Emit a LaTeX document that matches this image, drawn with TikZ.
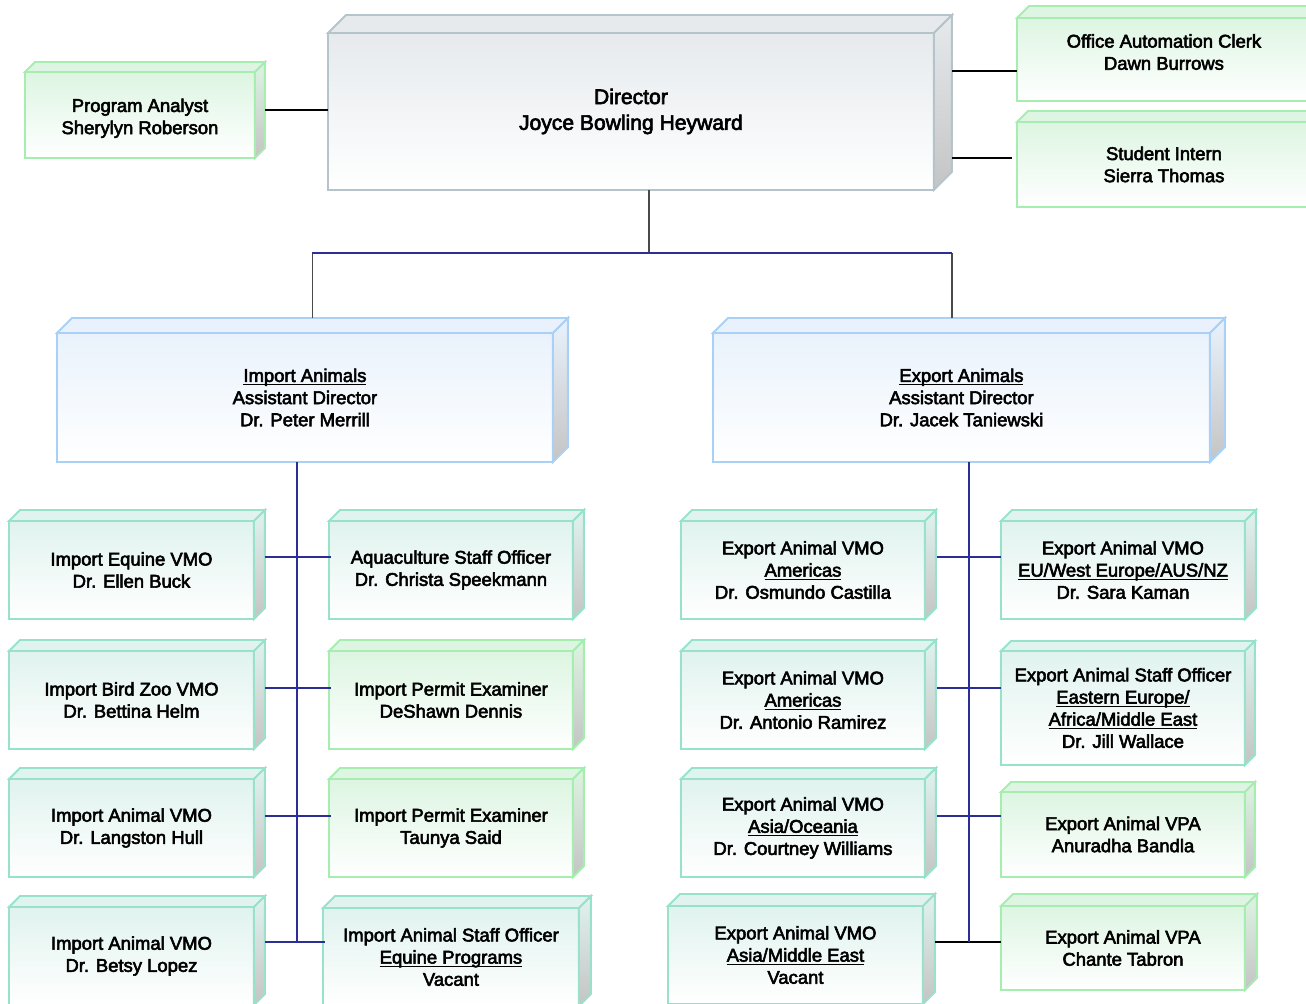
\documentclass[tikz,border=0pt]{standalone}
\usepackage{fontspec}
\setmainfont{Liberation Sans}[FakeBold=3]
\usetikzlibrary{positioning,calc}
\definecolor{dirL}{HTML}{B5C3CB}
\definecolor{dirF}{HTML}{E6EAED}
\definecolor{grnL}{HTML}{A6EDB0}
\definecolor{grnF}{HTML}{DDF5E2}
\definecolor{teaL}{HTML}{98E2CC}
\definecolor{teaF}{HTML}{E0F3EE}
\definecolor{bluL}{HTML}{A9D1F7}
\definecolor{bluF}{HTML}{E9F2FC}
\definecolor{sideG}{HTML}{C4C4C4}
\definecolor{navy}{HTML}{2B2E94}
\definecolor{dgray}{HTML}{4A4A4A}
\newcommand{\ul}[1]{\rlap{\underline{\smash{#1}}}\phantom{#1}}

\begin{document}
\begin{tikzpicture}[x=0.02cm,y=-0.02cm]
          \tikzstyle{box} = [rectangle, anchor=north west, inner sep=0pt, outer sep=0pt, line width=1.1pt, align=center, font=\fontsize{10.5}{12.6}\selectfont]
          \tikzstyle{dnode} = [box, draw=dirL, top color=dirF, bottom color=white, font=\fontsize{12}{14.7}\selectfont]
          \tikzstyle{gnode} = [box, draw=grnL, top color=grnF, bottom color=white]
          \tikzstyle{tnode} = [box, draw=teaL, top color=teaF, bottom color=white]
          \tikzstyle{bnode} = [box, draw=bluL, top color=bluF, bottom color=white]
          \tikzstyle{cell} = [minimum width=4.88cm, minimum height=1.96cm]
          \tikzstyle{blk} = [line width=1pt, black]
          \tikzstyle{nvy} = [line width=1pt, navy]
          \tikzstyle{gry} = [line width=1pt, dgray]
          \useasboundingbox (0,0) rectangle (1306,1004);

          \node[dnode, minimum width=12.12cm, minimum height=3.14cm] (dir) at (328,33) {Director\\Joyce Bowling Heyward};
          \node[gnode, minimum width=4.6cm, minimum height=1.72cm, text height=0.84cm] (pa) at (25,72) {Program Analyst\\Sherylyn Roberson};
          \node[gnode, minimum width=5.88cm, minimum height=1.66cm, text depth=0.3cm] (oac) at (1017,18) {Office Automation Clerk\\Dawn Burrows};
          \node[gnode, minimum width=5.88cm, minimum height=1.7cm] (si) at (1017,122) {Student Intern\\Sierra Thomas};

          \node[bnode, minimum width=9.92cm, minimum height=2.58cm] (ia) at (57,333) {\ul{Import Animals}\\Assistant Director\\Dr. Peter Merrill};
          \node[bnode, minimum width=9.94cm, minimum height=2.58cm] (ea) at (713,333) {\ul{Export Animals}\\Assistant Director\\Dr. Jacek Taniewski};

          \node[tnode, cell, minimum width=4.9cm] (ie1) at (9,521) {Import Equine VMO\\Dr. Ellen Buck};
          \node[tnode, cell, minimum width=4.9cm] (ie2) at (9,651) {Import Bird Zoo VMO\\Dr. Bettina Helm};
          \node[tnode, cell, minimum width=4.9cm] (ie3) at (9,779) {Import Animal VMO\\Dr. Langston Hull};
          \node[tnode, cell, minimum width=4.9cm] (ie4) at (9,907) {Import Animal VMO\\Dr. Betsy Lopez};

          \node[tnode, cell] (ir1) at (329,521) {Aquaculture Staff Officer\\Dr. Christa Speekmann};
          \node[gnode, cell] (ir2) at (329,651) {Import Permit Examiner\\DeShawn Dennis};
          \node[gnode, cell] (ir3) at (329,779) {Import Permit Examiner\\Taunya Said};
          \node[tnode, cell, minimum width=5.12cm] (ir4) at (323,908) {Import Animal Staff Officer\\\ul{Equine Programs}\\Vacant};

          \node[tnode, cell] (el1) at (681,521) {Export Animal VMO\\\ul{Americas}\\Dr. Osmundo Castilla};
          \node[tnode, cell] (el2) at (681,651) {Export Animal VMO\\\ul{Americas}\\Dr. Antonio Ramirez};
          \node[tnode, cell] (el3) at (681,779) {Export Animal VMO\\\ul{Asia/Oceania}\\Dr. Courtney Williams};
          \node[tnode, cell, minimum width=5.1cm] (el4) at (668,906) {Export Animal VMO\\\ul{Asia/Middle East}\\Vacant};

          \node[tnode, cell] (er1) at (1001,521) {Export Animal VMO\\\ul{EU/West Europe/AUS/NZ}\\Dr. Sara Kaman};
          \node[tnode, cell, minimum height=2.28cm] (er2) at (1001,651) {Export Animal Staff Officer\\\ul{Eastern Europe/}\\\ul{Africa/Middle East}\\Dr. Jill Wallace};
          \node[gnode, cell, minimum height=1.7cm] (er3) at (1001,792) {Export Animal VPA\\Anuradha Bandla};
          \node[gnode, cell, minimum height=1.68cm] (er4) at (1001,906) {Export Animal VPA\\Chante Tabron};

          \foreach \n/\d/\col in {dir/18/dir, pa/10/grn, oac/12/grn, si/11/grn, ia/15/blu, ea/15/blu,
                                  ie1/11/tea, ie2/11/tea, ie3/11/tea, ie4/11/tea,
                                  ir1/11/tea, ir2/11/grn, ir3/11/grn, ir4/12/tea,
                                  el1/11/tea, el2/11/tea, el3/11/tea, el4/12/tea,
                                  er1/11/tea, er2/10/tea, er3/10/grn, er4/12/grn}{
            \filldraw[draw=\col L, fill=\col F, line width=1.1pt]
              (\n.north west) -- ++(\d,-\d) -- ([shift={(\d,-\d)}]\n.north east) -- (\n.north east) -- cycle;
            \filldraw[draw=\col L, top color=\col F, bottom color=sideG, line width=1.1pt]
              (\n.north east) -- ++(\d,-\d) -- ([shift={(\d,-\d)}]\n.south east) -- (\n.south east) -- cycle;
          }

          \coordinate (dirr) at ([xshift=0.36cm]dir.east);
          \coordinate (dirb) at ([xshift=0.36cm]dir.south);
          \coordinate (paj) at ([shift={(10,-5)}]pa.east);
          \coordinate (oacj) at ([yshift=-0.23cm]oac.west);
          \coordinate (sij) at ([shift={(-5,-6.5)}]si.west);
          \draw[blk] (paj) -- (paj -| dir.west);
          \draw[blk] (oacj -| dirr) -- (oacj);
          \draw[blk] (sij -| dirr) -- (sij);

          \coordinate (iat) at ([shift={(7.5,-15)}]ia.north);
          \coordinate (eat) at ([shift={(-9.5,-15)}]ea.north);
          \coordinate (bus) at ([yshift=1.3cm]iat);
          \draw[gry] (dirb) -- (dirb |- bus);
          \draw[gry] (bus -| iat) -- (iat);
          \draw[gry] (bus -| eat) -- (eat);
          \draw[nvy] (bus -| iat) -- (bus -| eat);

          \coordinate (it) at ([xshift=-0.16cm]ia.south);
          \coordinate (et) at ([xshift=0.15cm]ea.south);
          \foreach \i/\o in {1/13, 2/12, 3/12, 4/14}{
            \coordinate (ij\i) at ([shift={(11,-\o)}]ie\i.east);
            \draw[nvy] (ij\i) -- ([xshift=0.04cm]ij\i -| ir\i.west);
          }
          \foreach \i/\o in {1/13, 2/12, 3/12}{
            \coordinate (ej\i) at ([shift={(12,-\o)}]el\i.east);
            \draw[nvy] (ej\i) -- (ej\i -| er\i.west);
          }
          \coordinate (ej4) at ([shift={(12,-13)}]el4.east);
          \draw[blk] (ej4) -- (ej4 -| er4.west);
          \draw[nvy] (it) -- (it |- ij4);
          \draw[nvy] (et) -- (et |- ej4);
        \end{tikzpicture}
\end{document}
